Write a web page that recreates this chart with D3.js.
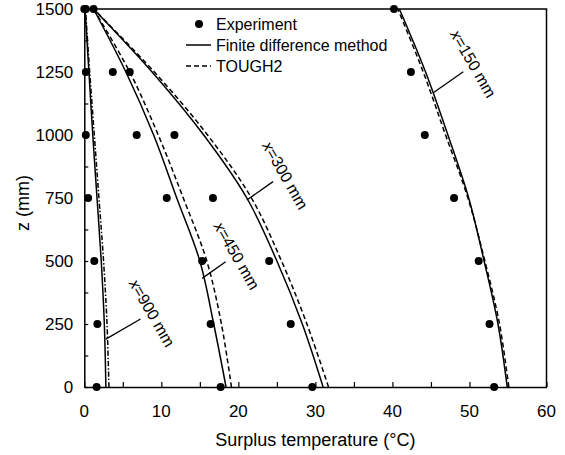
<!DOCTYPE html>
<html>
<head>
<meta charset="utf-8">
<script src="https://cdn.jsdelivr.net/npm/d3@7"></script>
<style>
  html, body { margin: 0; padding: 0; background: #fff; }
  svg { display: block; font-family: "Liberation Sans", Arial, sans-serif; }
</style>
</head>
<body>
<svg id="chart" width="565" height="455"></svg>
<script>
// === Data ===
const zLevels = [0, 250, 500, 750, 1000, 1250, 1500];   // z (mm)

// experiment (surplus temperature, °C) at each z level
const exp150 = [53.2, 52.6, 51.2, 48.0, 44.2, 42.4, 40.2];
const exp300 = [29.6, 26.8, 24.0, 16.7, 11.7, 5.9, 1.2];
const exp450 = [17.7, 16.4, 15.3, 10.7, 6.8, 3.7, 0.2];
const exp900 = [1.6, 1.7, 1.3, 0.5, 0.2, 0.2, 0.0];

// finite difference method
const fdm150 = [54.9, 53.7, 51.9, 49.9, 47.2, 44.3, 40.9];
const fdm300 = [31.0, 28.3, 25.0, 21.1, 15.5, 8.8, 1.2];
const fdm450 = [18.4, 16.8, 15.0, 12.0, 9.0, 5.4, 1.2];
const fdm900 = [2.8, 2.6, 2.2, 1.65, 1.1, 0.6, 0.1];

// TOUGH2
const tough150 = [55.1, 53.9, 52.0, 49.8, 46.9, 44.0, 40.7];
const tough300 = [31.7, 28.9, 25.6, 21.7, 16.0, 9.1, 1.2];
const tough450 = [19.1, 17.8, 15.9, 12.85, 9.6, 5.9, 1.2];
const tough900 = [3.2, 2.95, 2.5, 1.9, 1.3, 0.7, 0.15];

const xTicks = [0, 10, 20, 30, 40, 50, 60];
const yTicks = [0, 250, 500, 750, 1000, 1250, 1500];

// curve labels: leader line from (t0,z0) to (t1,z1), text centre at (tt,zt)
const labels = [
  { name: '150', t0: 45.3, z0: 1168, t1: 49.2, z1: 1251, tt: 50.5, zt: 1283 },
  { name: '300', t0: 21.1, z0: 742,  t1: 24.5, z1: 815,  tt: 26.1, zt: 840 },
  { name: '450', t0: 15.3, z0: 431,  t1: 18.35, z1: 497, tt: 19.8, zt: 521 },
  { name: '900', t0: 2.8,  z0: 190,  t1: 7.3,  z1: 270,  tt: 8.8,  zt: 294 }
];

// === Layout ===
const W = 565, H = 455;
const margin = { top: 9, right: 18.5, bottom: 68, left: 84.3 };

const svg = d3.select('#chart');

const x = d3.scaleLinear().domain([0, 60]).range([margin.left, W - margin.right]);
const y = d3.scaleLinear().domain([0, 1500]).range([H - margin.bottom, margin.top]);

const series = [
  { exp: exp150, fdm: fdm150, tough: tough150, dash: '5,3' },
  { exp: exp300, fdm: fdm300, tough: tough300, dash: '5,3' },
  { exp: exp450, fdm: fdm450, tough: tough450, dash: '5,3' },
  { exp: exp900, fdm: fdm900, tough: tough900, dash: '5,2,1.5,2' }
];

// --- frame (top + right) ---
svg.append('path')
  .attr('d', `M${x(0)},${y(1500)}H${x(60)}V${y(0)}`)
  .attr('fill', 'none')
  .attr('stroke', '#000')
  .attr('stroke-width', 1.5);

// --- axes with inward ticks ---
const xAxis = svg.append('g')
  .attr('transform', `translate(0,${y(0)})`)
  .call(d3.axisBottom(x).tickValues(d3.range(0, 61, 5)).tickSizeInner(-5).tickSizeOuter(0).tickFormat(''));
const yAxis = svg.append('g')
  .attr('transform', `translate(${x(0)},0)`)
  .call(d3.axisLeft(y).tickValues(d3.range(0, 1501, 125)).tickSizeInner(-4).tickSizeOuter(0).tickFormat(''));

[xAxis, yAxis].forEach(g => {
  g.select('.domain').attr('stroke-width', 1.5);
  g.selectAll('.tick line').attr('stroke-width', 1.2);
});

// tick labels
svg.append('g').selectAll('text')
  .data(xTicks)
  .join('text')
  .attr('x', d => x(d))
  .attr('y', y(0) + 30)
  .attr('text-anchor', 'middle')
  .attr('font-size', 17)
  .text(d => d);

svg.append('g').selectAll('text')
  .data(yTicks)
  .join('text')
  .attr('x', x(0) - 11)
  .attr('y', d => y(d) + 6)
  .attr('text-anchor', 'end')
  .attr('font-size', 17)
  .text(d => d);

// axis titles
svg.append('text')
  .attr('x', (x(0) + x(60)) / 2)
  .attr('y', H - 9)
  .attr('text-anchor', 'middle')
  .attr('font-size', 18)
  .text('Surplus temperature (°C)');

svg.append('text')
  .attr('transform', `translate(29,${(y(0) + y(1500)) / 2 + 5}) rotate(-90)`)
  .attr('text-anchor', 'middle')
  .attr('font-size', 18)
  .text('z (mm)');

// --- curves ---
const line = key => d3.line()
  .x(d => x(d[key]))
  .y(d => y(d.z))
  .curve(d3.curveCatmullRom.alpha(0.5));

const curveG = svg.append('g').attr('fill', 'none').attr('stroke', '#000');

series.forEach(s => {
  const rows = zLevels.map((z, i) => ({ z, fdm: s.fdm[i], tough: s.tough[i], exp: s.exp[i] }));

  curveG.append('path')
    .datum(rows)
    .attr('d', line('fdm'))
    .attr('stroke-width', 1.5);

  curveG.append('path')
    .datum(rows)
    .attr('d', line('tough'))
    .attr('stroke-width', 1.5)
    .attr('stroke-dasharray', s.dash);

  svg.append('g').selectAll('circle')
    .data(rows)
    .join('circle')
    .attr('cx', d => x(d.exp))
    .attr('cy', d => y(d.z))
    .attr('r', 4)
    .attr('fill', '#000');
});

// --- curve labels ---
const labG = svg.append('g');
labels.forEach(l => {
  labG.append('line')
    .attr('x1', x(l.t0)).attr('y1', y(l.z0))
    .attr('x2', x(l.t1)).attr('y2', y(l.z1))
    .attr('stroke', '#000')
    .attr('stroke-width', 1.3);

  const t = labG.append('text')
    .attr('transform', `translate(${x(l.tt)},${y(l.zt)}) rotate(60)`)
    .attr('text-anchor', 'middle')
    .attr('dy', '0.35em')
    .attr('font-size', 16);
  t.append('tspan').attr('font-style', 'italic').text('x');
  t.append('tspan').text(`=${l.name} mm`);
});

// --- legend ---
const legend = svg.append('g').attr('font-size', 16);
legend.append('circle').attr('cx', 199).attr('cy', 24).attr('r', 4).attr('fill', '#000');
legend.append('text').attr('x', 216).attr('y', 29.5).text('Experiment');
legend.append('line').attr('x1', 186).attr('x2', 211).attr('y1', 45).attr('y2', 45)
  .attr('stroke', '#000').attr('stroke-width', 1.5);
legend.append('text').attr('x', 216).attr('y', 50.5).text('Finite difference method');
legend.append('line').attr('x1', 186).attr('x2', 211).attr('y1', 66).attr('y2', 66)
  .attr('stroke', '#000').attr('stroke-width', 1.5).attr('stroke-dasharray', '5,3');
legend.append('text').attr('x', 216).attr('y', 71.5).text('TOUGH2');
</script>
</body>
</html>
